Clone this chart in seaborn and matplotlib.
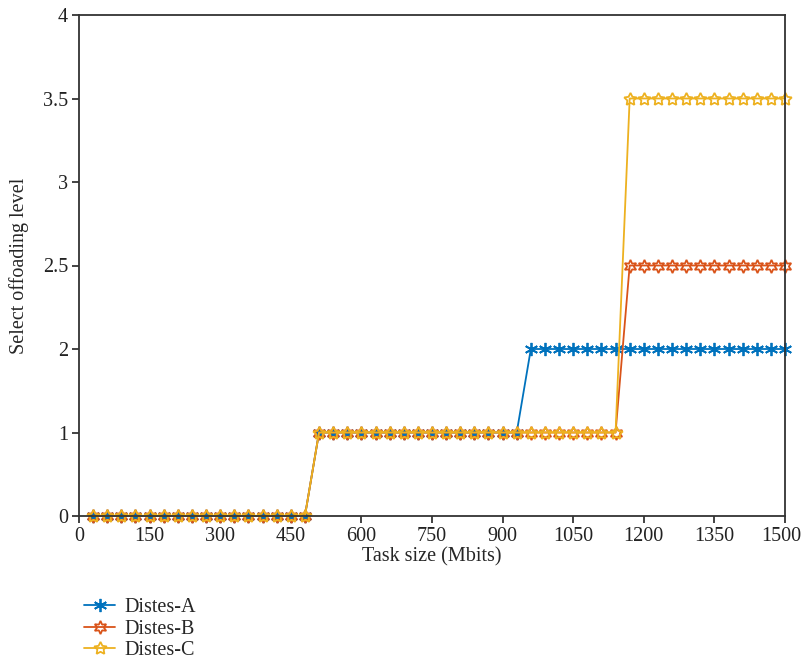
import numpy as np
import pandas as pd
import matplotlib
matplotlib.use("Agg")
import matplotlib.pyplot as plt
import matplotlib.transforms as mtransforms
import seaborn as sns

# Task sizes (Mbits)
task_size = list(range(30, 1501, 30))

# Selected offloading level per task size
level_a = [0] * 16 + [1] * 15 + [2] * 19
level_b = [0] * 16 + [1] * 22 + [2.5] * 12
level_c = [0] * 16 + [1] * 22 + [3.5] * 12

series_names = ["Distes-A", "Distes-B", "Distes-C"]
series_colors = ["#0072BD", "#D95319", "#EDB120"]
series_markers = [(6, 2, 0), (6, 1, 0), (5, 1, 0)]

x_ticks = list(range(0, 1501, 150))
y_ticks = [0, 1, 2, 2.5, 3, 3.5, 4]
y_tick_labels = ["0", "1", "2", "2.5", "3", "3.5", "4"]

FS = 14.5

sns.set_theme(style="ticks")
plt.rcParams["font.family"] = ["Liberation Serif", "DejaVu Serif"]
plt.rcParams["font.size"] = FS

df = pd.DataFrame({
    "Task size (Mbits)": task_size * 3,
    "level": level_a + level_b + level_c,
    "series": np.repeat(series_names, len(task_size)),
})

fig = plt.figure(figsize=(8.01, 6.65), dpi=100)
ax = fig.add_axes([79 / 801, 1 - 516 / 665, (785 - 79) / 801, (516 - 15) / 665])


# Piecewise axis: levels above 2 are stretched so that half-steps get equal spacing
def fwd(y):
    y = np.asarray(y, dtype=float)
    return np.where(y <= 2, y, 2 + 2 * (y - 2))


def inv(v):
    v = np.asarray(v, dtype=float)
    return np.where(v <= 2, v, 2 + (v - 2) / 2)


ax.set_yscale("function", functions=(fwd, inv))

for name, color, marker in zip(series_names, series_colors, series_markers):
    sub = df[df["series"] == name]
    sns.lineplot(data=sub, x="Task size (Mbits)", y="level", ax=ax,
                 color=color, marker=marker, markersize=9.5, fillstyle="none",
                 markeredgecolor=color, markeredgewidth=1.3, linewidth=1.3,
                 label=name, legend=False, clip_on=False)

ax.set_xlim(0, 1500)
ax.set_ylim(0, 4)
ax.set_xticks(x_ticks)
ax.set_yticks(y_ticks)
ax.set_yticklabels(y_tick_labels)
ax.yaxis.set_minor_locator(matplotlib.ticker.NullLocator())
ax.xaxis.set_minor_locator(matplotlib.ticker.NullLocator())
ax.set_xlabel("Task size (Mbits)", fontsize=FS, labelpad=1)
ax.set_ylabel("Select offoading level", fontsize=FS, labelpad=10)
ax.tick_params(axis="both", direction="out", length=5, width=1.2,
               colors="#222222", labelsize=FS, pad=3)

for side in ["left", "bottom", "top", "right"]:
    ax.spines[side].set_visible(True)
    ax.spines[side].set_color("#333333")
    ax.spines[side].set_linewidth(1.3)

handles, labels = ax.get_legend_handles_labels()
fig.legend(handles, labels, loc="upper left",
           bbox_to_anchor=(76 / 801, 1 - 590 / 665), frameon=False,
           fontsize=FS, handlelength=1.55, handletextpad=0.45,
           labelspacing=0.12, borderaxespad=0)

# keep the last x tick label inside the figure edge
last_tick = ax.xaxis.get_major_ticks()[-1]
last_tick.label1.set_transform(
    last_tick.label1.get_transform()
    + mtransforms.ScaledTranslation(-4 / 100, 0, fig.dpi_scale_trans))

fig.savefig("out.png", dpi=100)
